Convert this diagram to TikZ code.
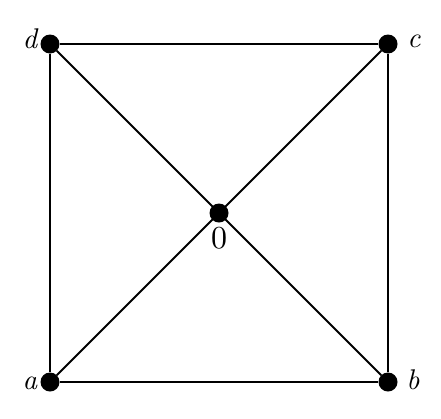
\documentclass[tikz,border=0pt]{standalone}
\usepackage{graphicx}
\begin{document}
\begin{tikzpicture}[x=1pt,y=-1pt,
  vtx/.style={circle,fill=black,inner sep=0pt,minimum size=19pt},
  edge/.style={line width=1.8pt},
  lbl/.style={inner sep=0pt,anchor=base}]
\useasboundingbox (0,0) rectangle (441,418);
\node[vtx] (d) at (50,44) {};
\node[vtx] (c) at (388,44) {};
\node[vtx] (a) at (50,382) {};
\node[vtx] (b) at (388,382) {};
\node[vtx] (o) at (219,213) {};
\draw[edge] (a) -- (b) -- (c) -- (d) -- (a);
\draw[edge] (a) -- (c);
\draw[edge] (d) -- (b);
\node[lbl] (ld) at (30,48) {\scalebox{2.85}{\itshape d}};
\node[lbl] (lc) at (414,47) {\scalebox{2.85}{\itshape c}};
\node[lbl] (la) at (30,389) {\scalebox{2.85}{\itshape a}};
\node[lbl] (lb) at (413,389) {\scalebox{2.85}{\itshape b}};
\node[lbl] (lo) at (219,248) {\scalebox{3.2}{0}};
\end{tikzpicture}
\end{document}
